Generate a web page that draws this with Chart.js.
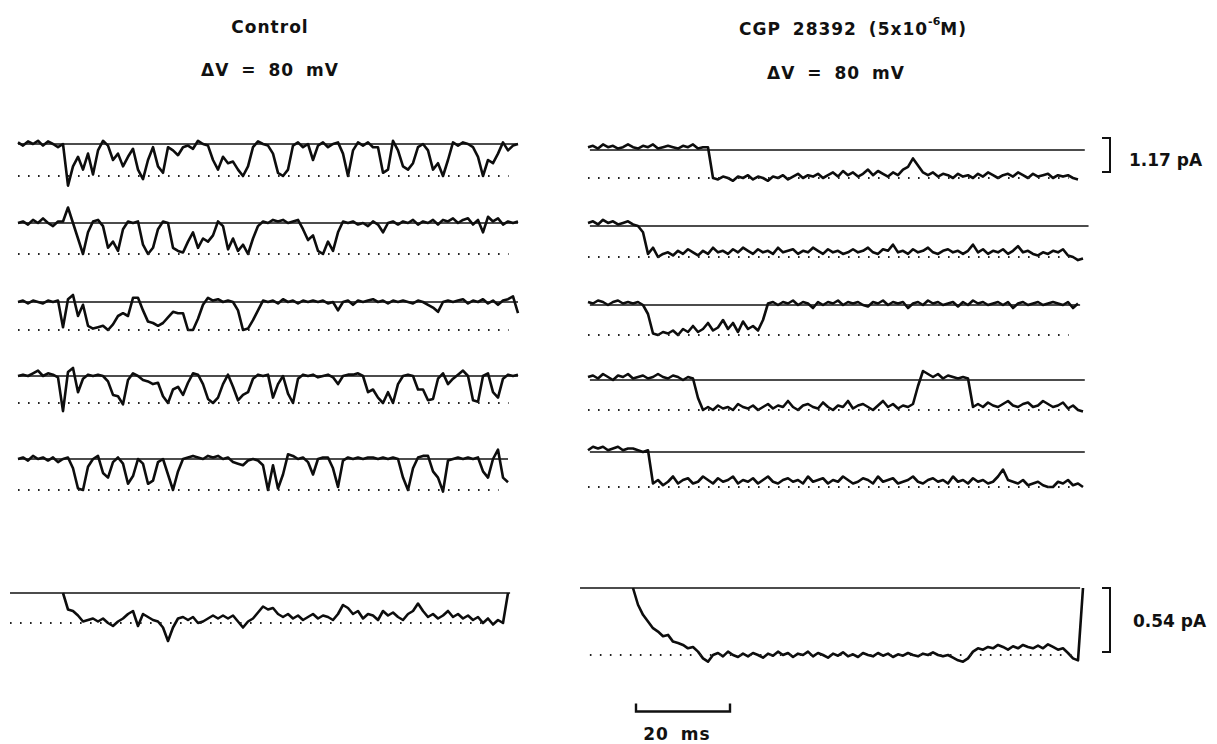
<!DOCTYPE html>
<html>
<head>
<meta charset="utf-8">
<script src="https://cdn.jsdelivr.net/npm/chart.js@4.4.1/dist/chart.umd.min.js"></script>
<style>
  body { margin: 0; width: 1217px; height: 744px; overflow: hidden; position: relative; background: #fff;
         font-family: "DejaVu Sans", Arial, sans-serif; font-weight: bold; color: #111; }
  canvas { position: absolute; }
  .t { position: absolute; white-space: nowrap; font-size: 17px; line-height: 1; transform: translateX(-50%);
       letter-spacing: 1px; word-spacing: 5px; }
  .r { position: absolute; white-space: nowrap; font-size: 17px; line-height: 1; letter-spacing: 0; }
  sup { font-size: 11px; position: relative; top: -3px; letter-spacing: 0; }
</style>
</head>
<body>
<div class="t" style="left:270px;top:19px">Control</div>
<div class="t" style="left:270px;top:62px">&Delta;V = 80 mV</div>
<div class="t" style="left:853px;top:19px">CGP 28392 (5x10<sup>-6</sup>M)</div>
<div class="t" style="left:836px;top:65px">&Delta;V = 80 mV</div>
<div class="r" style="left:1129px;top:152px">1.17 pA</div>
<div class="r" style="left:1133px;top:613px">0.54 pA</div>
<div class="t" style="left:677px;top:726px">20 ms</div>

<script>
// sampling of the digitised records
const PX_PER_MS = 4.7;
const DT = 5 / PX_PER_MS; // ms per sample

// current, in units of the single-channel amplitude (0 = closed, -1 = open)
const control1 = [0.05,-0.05,0.08,0,0.1,-0.05,0.08,0,-0.1,0,-1.3,-0.7,-0.4,-0.8,-0.3,-0.95,-0.2,0.1,-0.05,-0.5,
  -0.3,-0.7,-0.4,-0.15,-0.8,-1.1,-0.5,-0.1,-0.7,-0.9,-0.1,-0.2,-0.35,-0.1,-0.05,-0.15,0.1,0,-0.05,-0.5,
  -0.8,-0.4,-0.6,-0.55,-0.8,-1.0,-0.7,-0.1,0.08,0,-0.05,-0.3,-0.9,-1.0,-0.8,-0.05,0.05,-0.1,0,-0.5,
  -0.05,0.05,-0.1,0,0.05,-0.3,-1.0,-0.2,0.05,-0.05,0.05,-0.1,-0.1,-0.9,-0.8,0.1,-0.2,-0.7,-0.8,-0.6,
  -0.1,0,-0.2,-0.8,-0.6,-1.0,-0.5,0.05,-0.05,0.05,0,-0.1,-0.4,-1.0,-0.5,-0.6,-0.3,0.05,-0.2,-0.05,0];
const control2 = [0,0.05,-0.05,0.1,0,0.15,0,-0.1,0.05,0.05,0.5,0,-0.5,-1.0,-0.3,0.05,0.1,-0.1,-0.8,-0.6,
  -0.9,-0.2,0.05,0,0.05,-0.7,-1.0,-0.8,-0.2,0.05,0,-0.8,-0.9,-0.95,-0.6,-0.3,-0.8,-0.5,-0.6,-0.4,
  0.05,-0.1,-0.85,-0.5,-0.9,-0.7,-1.0,-0.5,-0.1,0.05,0,0.1,0.05,0.1,0,0.05,0.1,-0.2,-0.55,-0.4,
  -0.9,-1.0,-0.6,-0.9,-0.3,0.05,0,0.05,-0.05,0,-0.1,0.05,-0.05,-0.3,0,0.05,-0.05,0.05,0,0.1,
  -0.05,0.05,0,0.1,-0.05,0.1,0.05,0.15,0,0.1,0.15,-0.05,0.1,-0.3,0.2,0.05,0.15,-0.05,0.05,0,0.05];
const control3 = [0,0.05,-0.05,0.05,0,-0.05,0.05,0,0.05,-0.9,0.1,0.25,-0.5,-0.1,-0.85,-0.95,-0.9,-0.85,-1.0,-0.8,
  -0.5,-0.4,-0.5,0.15,0.15,-0.3,-0.7,-0.75,-0.85,-0.75,-0.55,-0.35,-0.4,-0.4,-1.0,-1.0,-0.6,-0.1,0.15,0.05,
  0.1,0,0.05,0,-0.3,-1.0,-0.95,-0.65,-0.3,0.05,0,0.05,-0.05,0.1,0,0.05,-0.05,0.05,0,0.05,
  0,0.05,-0.05,0,-0.3,0,0.05,-0.1,0.05,0,0.05,0.1,0,0.05,-0.05,0.05,0,0.05,0,-0.05,
  0.05,0,-0.1,-0.2,-0.35,0,0.05,0,0.05,0.1,-0.05,0.05,0,0.1,-0.05,0.05,-0.1,0.05,0.1,0.2,-0.4];
const control4 = [0,0.05,0,0.1,0.2,0,0.1,0.05,-0.05,-1.3,0.15,0.3,-0.6,-0.1,0.05,0,0.05,0,-0.2,-0.7,
  -0.75,-1.05,-0.15,0.1,0,-0.15,-0.2,-0.3,-0.25,-0.75,-1.0,-0.5,-0.4,-0.7,-0.25,0.1,0.05,-0.3,-0.85,-1.0,
  -0.8,-0.3,0.05,-0.4,-0.9,-0.7,-0.6,-0.1,0.05,0,0.05,-0.8,-0.3,0,-0.65,-1.0,-0.1,0.05,0,0.05,
  -0.05,0,0.05,-0.05,-0.3,0,0.05,0.05,0.1,0,-0.6,-0.5,-0.8,-1.0,-0.6,-1.0,-0.3,0,0.05,0,
  -0.5,-0.5,-0.9,-0.85,-0.1,0.1,-0.3,-0.1,0.05,0.2,0,-0.9,-0.95,0,0.1,-0.6,-0.8,-0.1,0.05,0,0.05];
const control5 = [0,0.05,-0.05,0.1,0,0.05,-0.05,0.05,-0.1,0,0.05,-0.3,-0.95,-1.0,-0.25,0,0.1,-0.45,-0.6,-0.1,
  0.05,-0.15,-0.8,-0.55,0,-0.15,-0.8,-0.7,-0.1,0,-0.5,-1.0,-0.4,0,0.05,0.1,0.05,0,0.1,0.05,
  0.1,0,0.05,-0.1,-0.15,-0.2,-0.05,0,-0.05,-0.2,-1.0,-0.2,-0.95,-0.5,0.15,0.1,0,0.05,-0.1,-0.5,
  0,0.05,0.05,-0.3,-0.9,-0.05,0.05,0,0.05,0,0.05,0.05,0,0.05,0,0.05,0,-0.6,-1.0,-0.3,
  0.05,0.1,0.1,-0.4,-0.6,-1.05,-0.05,0,0.05,0,0.05,0,0.05,-0.4,-0.6,0,0.3,-0.6,-0.75];
const controlMean = [null,null,null,null,null,null,null,null,null,0,-0.55,-0.6,-0.75,-0.95,-0.9,-0.85,-0.95,-0.85,-1.0,-1.1,
  -0.95,-0.85,-0.7,-0.6,-1.1,-0.7,-0.8,-0.9,-0.95,-1.15,-1.6,-1.15,-0.85,-0.8,-0.9,-0.8,-1.0,-0.95,-0.85,-0.75,
  -0.85,-0.75,-0.85,-0.75,-0.95,-1.15,-0.95,-0.85,-0.65,-0.45,-0.55,-0.5,-0.7,-0.8,-0.7,-0.85,-0.75,-0.9,-0.8,-0.7,
  -0.85,-0.75,-0.8,-0.9,-0.7,-0.4,-0.5,-0.7,-0.6,-0.85,-0.7,-0.75,-0.9,-0.6,-0.75,-0.65,-0.8,-0.9,-0.7,-0.6,
  -0.35,-0.6,-0.8,-0.7,-0.85,-0.75,-0.6,-0.8,-0.7,-0.85,-0.75,-0.9,-0.8,-1.0,-0.85,-1.05,-0.9,-1.0,0];

const drug1 = [0.1,0.15,0.05,0.2,0.1,0.15,0.05,0.1,0.2,0.1,0.05,0.15,0.1,0.2,0.05,0.1,0.15,0.1,0.05,0.15,
  0.1,0.2,0.05,0.1,0.1,-1.0,-1.05,-0.95,-1.0,-1.1,-0.95,-1.0,-0.9,-1.05,-0.95,-1.0,-1.1,-0.95,-1.0,-0.9,
  -1.05,-0.95,-0.85,-1.0,-0.9,-0.95,-0.85,-1.0,-0.9,-0.8,-0.95,-0.75,-0.9,-0.8,-0.95,-0.85,-0.7,-0.9,-0.75,-0.85,
  -0.95,-0.8,-0.9,-0.7,-0.6,-0.3,-0.55,-0.8,-0.9,-0.8,-0.95,-0.85,-0.9,-1.0,-0.85,-0.95,-0.9,-1.0,-0.85,-0.95,
  -0.8,-0.9,-1.0,-0.9,-0.85,-0.95,-0.8,-0.9,-1.0,-0.85,-0.95,-0.9,-0.85,-1.0,-0.9,-0.95,-0.9,-1.0,-1.05];
const drug2 = [0.1,0.15,0.05,0.2,0.1,0.15,0.05,0.1,0.15,0.05,0,-0.2,-0.9,-0.7,-1.0,-0.9,-0.85,-0.95,-0.8,-0.9,
  -0.75,-0.85,-0.95,-0.8,-0.9,-0.7,-0.85,-0.8,-0.9,-0.75,-0.85,-0.7,-0.8,-0.9,-0.75,-0.85,-0.8,-0.9,-0.7,-0.85,
  -0.8,-0.75,-0.9,-0.8,-0.85,-0.7,-0.8,-0.9,-0.75,-0.85,-0.8,-0.9,-0.85,-0.75,-0.85,-0.8,-0.7,-0.85,-0.9,-0.75,
  -0.8,-0.6,-0.85,-0.8,-0.9,-0.75,-0.85,-0.8,-0.7,-0.85,-0.9,-0.8,-0.75,-0.85,-0.8,-0.9,-0.8,-0.6,-0.85,-0.75,
  -0.9,-0.8,-0.85,-0.75,-0.9,-0.8,-0.65,-0.85,-0.8,-0.9,-0.95,-0.85,-0.9,-0.8,-0.85,-0.75,-0.95,-1.0,-1.1,-1.05];
const drug3 = [0.1,0.05,0.15,0.1,0,0.1,0.15,0.05,0.1,0.05,0.1,0,-0.3,-0.95,-1.0,-0.9,-0.95,-0.85,-1.0,-0.8,
  -0.9,-0.7,-0.9,-0.8,-0.6,-0.85,-0.75,-0.5,-0.8,-0.6,-0.9,-0.55,-0.8,-0.7,-0.85,-0.5,0.05,0.1,0,0.1,
  0.05,0.15,0,0.1,0.05,-0.1,0.1,0,0.1,0.05,0.15,0,0.1,0.05,0.1,0,-0.05,0.1,0.05,0.15,
  0,0.1,0.05,0.1,-0.1,0.05,0.1,0,0.15,0.05,0.1,0,0.05,0.1,-0.05,0.1,0,0.15,0.05,0.1,
  0,0.05,0.1,0,0.1,-0.1,0.05,0.1,0,0.05,0.1,0,0.05,0.1,0.05,0,0.1,-0.1,0.05];
const drug4 = [0.1,0.15,0.05,0.2,0.1,0,0.15,0.1,0.2,0.05,0.1,0.15,0.05,0.1,0.2,0.1,0.05,0.15,0.1,0,
  0.1,0.05,-0.6,-1.0,-0.9,-1.0,-0.85,-0.95,-0.9,-1.0,-0.8,-0.9,-0.95,-0.85,-1.0,-0.9,-0.8,-0.95,-0.85,-0.9,
  -0.7,-0.9,-1.0,-0.85,-0.8,-0.9,-0.95,-0.75,-0.9,-1.0,-0.85,-0.9,-0.7,-0.95,-0.85,-0.8,-0.9,-1.0,-0.85,-0.7,
  -0.9,-0.8,-0.95,-0.85,-0.9,-0.8,-0.2,0.3,0.2,0.1,0.2,0.05,0.15,0.1,0.05,0.1,0.05,-0.9,-0.8,-0.9,
  -0.75,-0.85,-0.9,-0.8,-0.7,-0.85,-0.9,-0.8,-0.75,-0.9,-0.85,-0.7,-0.8,-0.9,-0.85,-0.75,-0.95,-0.85,-1.0,-1.05];
const drug5 = [0.05,0.15,0.1,0.15,0.05,0.1,0.15,0.05,0.1,0.1,0.05,0,0.05,-0.9,-0.8,-0.95,-0.85,-0.7,-0.9,-0.8,
  -0.75,-0.9,-0.85,-0.7,-0.8,-0.9,-0.75,-0.85,-0.8,-0.7,-0.9,-0.8,-0.85,-0.75,-0.9,-0.8,-0.7,-0.85,-0.9,-0.8,
  -0.75,-0.85,-0.8,-0.9,-0.7,-0.85,-0.8,-0.75,-0.9,-0.8,-0.85,-0.7,-0.8,-0.9,-0.85,-0.75,-0.8,-0.9,-0.7,-0.85,
  -0.8,-0.75,-0.9,-0.85,-0.8,-0.7,-0.85,-0.9,-0.8,-0.75,-0.85,-0.8,-0.9,-0.7,-0.85,-0.8,-0.9,-0.75,-0.85,-0.8,
  -0.9,-0.85,-0.7,-0.5,-0.8,-0.85,-0.9,-0.8,-0.95,-0.9,-0.85,-0.95,-1.0,-1.0,-0.85,-0.9,-0.8,-0.95,-0.9,-1.0];
const drugMean = [null,null,null,null,null,null,null,null,null,0,-0.25,-0.4,-0.5,-0.6,-0.65,-0.72,-0.7,-0.8,-0.82,-0.85,
  -0.9,-0.88,-0.95,-1.05,-1.1,-1.0,-0.97,-1.02,-0.95,-1.0,-1.03,-0.98,-1.02,-0.97,-1.0,-1.04,-0.98,-1.01,-0.95,-1.0,
  -0.97,-1.03,-0.98,-1.0,-0.95,-1.02,-0.97,-1.0,-1.04,-0.98,-1.01,-0.96,-1.02,-0.99,-1.03,-0.97,-1.0,-1.02,-0.97,-1.01,
  -0.98,-1.03,-0.99,-1.01,-0.97,-1.0,-1.02,-0.98,-1.0,-0.96,-1.0,-1.02,-1.0,-1.04,-1.08,-1.1,-1.05,-0.95,-0.9,-0.92,
  -0.88,-0.9,-0.85,-0.88,-0.92,-0.87,-0.9,-0.85,-0.88,-0.9,-0.86,-0.9,-0.84,-0.88,-0.92,-0.9,-0.97,-1.05,-1.08,0];

const ampBarsPA = [1.17, 0.54];
const timeBarMS = 20;

// ---- layout of the panels (page pixels) ----
const colLeft = { left: 0, origin: 18, width: 545 };
const colRight = { left: 570, origin: 588, width: 560 };

function makeCanvas(left, top, w, h) {
  const c = document.createElement('canvas');
  c.width = w; c.height = h;
  c.style.left = left + 'px'; c.style.top = top + 'px';
  document.body.appendChild(c);
  return c;
}

function baseOptions(xmin, xmax, ymin, ymax) {
  return {
    responsive: false, animation: false, devicePixelRatio: 1,
    layout: { padding: 0 },
    plugins: { legend: { display: false }, tooltip: { enabled: false } },
    elements: { point: { radius: 0 }, line: { tension: 0 } },
    scales: {
      x: { type: 'linear', display: false, min: xmin, max: xmax },
      y: { type: 'linear', display: false, min: ymin, max: ymax }
    }
  };
}

function drawTrace(col, values, solidY, amp, o) {
  o = o || {};
  const pad = 32;
  const h = Math.round(amp + 2 * pad);
  const c = makeCanvas(col.left, solidY - pad, col.width, h);
  const xmin = -(col.origin - col.left) / PX_PER_MS;
  const xmax = xmin + col.width / PX_PER_MS;
  const pts = values.map((v, i) => ({ x: i * DT, y: v }));
  const tEnd = (values.length - 1) * DT;
  const s0 = o.solidFrom !== undefined ? o.solidFrom : 0;
  const s1 = o.solidTo !== undefined ? o.solidTo : tEnd;
  const d0 = o.dotFrom !== undefined ? o.dotFrom : 0;
  const d1 = o.dotTo !== undefined ? o.dotTo : tEnd - 2;
  const datasets = [
    { data: [{ x: s0, y: 0 }, { x: s1, y: 0 }], borderColor: '#111', borderWidth: 1.7 },
    { data: [{ x: d0, y: -1 }, { x: d1, y: -1 }], borderColor: '#222', borderWidth: 1.8, borderDash: [1.6, 8.4] },
    { data: pts, borderColor: '#0d0d0d', borderWidth: 2.6, spanGaps: false, borderJoinStyle: 'round' }
  ];
  new Chart(c, { type: 'line', data: { datasets }, options: baseOptions(xmin, xmax, -(h - pad) / amp, pad / amp) });
}

drawTrace(colLeft, control1, 144, 32);
drawTrace(colLeft, control2, 223, 31);
drawTrace(colLeft, control3, 302, 28);
drawTrace(colLeft, control4, 376, 27);
drawTrace(colLeft, control5, 459, 31);
drawTrace(colLeft, controlMean, 593, 30, { solidFrom: -1.7, solidTo: 104.7, dotFrom: -1.7, dotTo: 100 });

drawTrace(colRight, drug1, 150, 28, { solidFrom: 0.4, solidTo: 105.7 });
drawTrace(colRight, drug2, 226, 31, { solidFrom: 0.4, solidTo: 106.5 });
drawTrace(colRight, drug3, 305, 30, { solidFrom: 0.4, solidTo: 104.7 });
drawTrace(colRight, drug4, 380, 30, { solidFrom: 0.4, solidTo: 105.7 });
drawTrace(colRight, drug5, 452, 35, { solidFrom: 0.4, solidTo: 105.7 });
drawTrace(colRight, drugMean, 588, 67, { solidFrom: -1.7, solidTo: 104.7, dotFrom: 0.4, dotTo: 103 });

// amplitude scale bars, "]" shape, in pA
function drawAmpBar(pa, topY, pxPerPA) {
  const h = Math.round(pa * pxPerPA) + 8;
  const c = makeCanvas(1096, topY - 4, 20, h);
  const o = baseOptions(0, 20, -4 / pxPerPA, (h - 4) / pxPerPA);
  new Chart(c, { type: 'line', options: o, data: { datasets: [{
    data: [{ x: 6, y: pa }, { x: 14, y: pa }, { x: 14, y: 0 }, { x: 6, y: 0 }],
    borderColor: '#111', borderWidth: 2
  }] } });
}
drawAmpBar(ampBarsPA[0], 138, 34 / 1.17);
drawAmpBar(ampBarsPA[1], 588, 64 / 0.54);

// time scale bar
(function () {
  const c = makeCanvas(626, 696, 114, 22);
  const o = baseOptions(-10 / PX_PER_MS, 104 / PX_PER_MS, -1, 1.2);
  new Chart(c, { type: 'line', options: o, data: { datasets: [{
    data: [{ x: 0, y: 0.45 }, { x: 0, y: -0.35 }, { x: timeBarMS, y: -0.35 }, { x: timeBarMS, y: 0.45 }],
    borderColor: '#111', borderWidth: 2.4
  }] } });
})();
</script>
</body>
</html>
